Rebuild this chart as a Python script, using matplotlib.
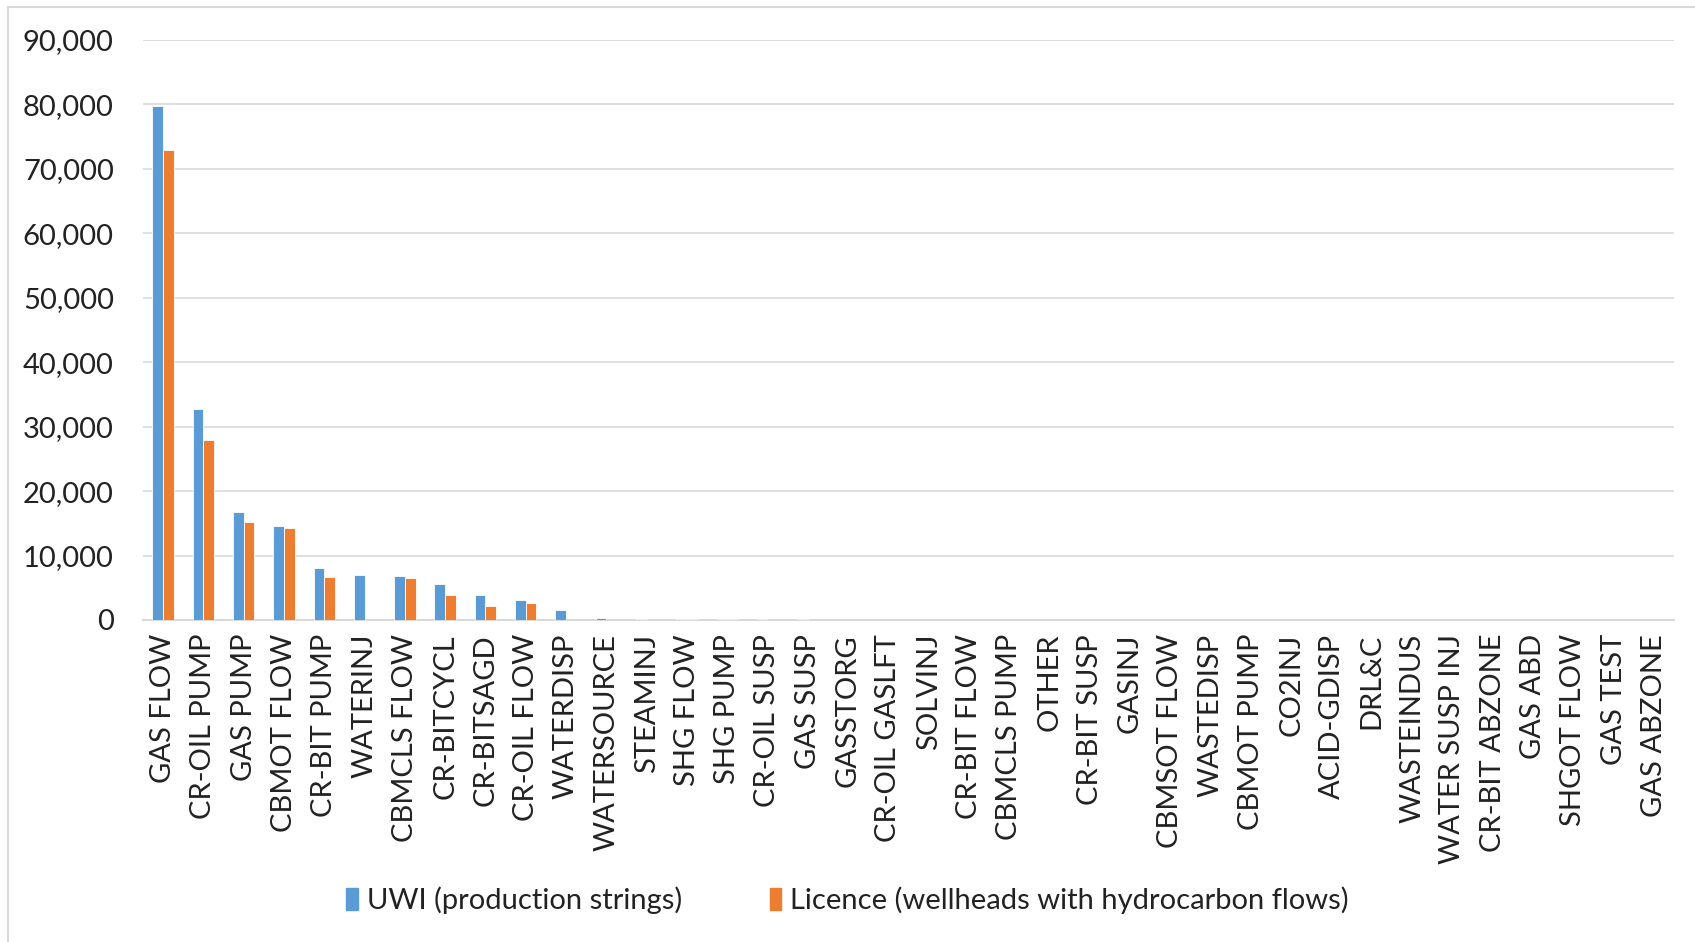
import matplotlib
matplotlib.use("Agg")
import matplotlib.pyplot as plt
import numpy as np
from matplotlib.ticker import FuncFormatter
from matplotlib.lines import Line2D

categories = ["GAS FLOW", "CR-OIL PUMP", "GAS PUMP", "CBMOT FLOW", "CR-BIT PUMP", "WATERINJ",
              "CBMCLS FLOW", "CR-BITCYCL", "CR-BITSAGD", "CR-OIL FLOW", "WATERDISP", "WATERSOURCE",
              "STEAMINJ", "SHG FLOW", "SHG PUMP", "CR-OIL SUSP", "GAS SUSP", "GASSTORG",
              "CR-OIL GASLFT", "SOLVINJ", "CR-BIT FLOW", "CBMCLS PUMP", "OTHER", "CR-BIT SUSP",
              "GASINJ", "CBMSOT FLOW", "WASTEDISP", "CBMOT PUMP", "CO2INJ", "ACID-GDISP",
              "DRL&C", "WASTEINDUS", "WATER SUSP INJ", "CR-BIT ABZONE", "GAS ABD", "SHGOT FLOW",
              "GAS TEST", "GAS ABZONE"]

uwi = [79700, 32800, 16700, 14550, 8000, 7000,
       6850, 5650, 3850, 3100, 1600, 380,
       200, 200, 200, 200, 200, 0,
       0, 0, 0, 0, 0, 0,
       0, 0, 0, 0, 0, 0,
       0, 0, 0, 0, 0, 0,
       0, 0]
licence = [73000, 28000, 15150, 14350, 6650, 0,
           6450, 3850, 2100, 2650, 0, 0,
           0, 200, 200, 0, 0, 0,
           0, 0, 0, 0, 0, 0,
           0, 0, 0, 0, 0, 0,
           0, 0, 0, 0, 0, 0,
           0, 0]

series_names = ["UWI (production strings)", "Licence (wellheads with hydrocarbon flows)"]
yticks = [0, 10000, 20000, 30000, 40000, 50000, 60000, 70000, 80000, 90000]

blue = "#5B9BD5"
orange = "#ED7D31"
W, H = 1695, 942
fig = plt.figure(figsize=(W / 100, H / 100), dpi=100)
plt.rcParams['font.family'] = ['Lato', 'DejaVu Sans']
FS = 21

ax = fig.add_axes([143 / W, 1 - 620 / H, (1674 - 143) / W, (620 - 40) / H])
x = np.arange(len(categories))
bw = 0.265
ax.bar(x - bw / 2, uwi, bw, color=blue, edgecolor="white", linewidth=0.6, zorder=3,
       label=series_names[0])
ax.bar(x + bw / 2, licence, bw, color=orange, edgecolor="white", linewidth=0.6, zorder=3,
       label=series_names[1])

ax.set_xlim(-0.5, len(categories) - 0.5)
ax.set_ylim(0, 90000)
ax.set_yticks(yticks)
ax.yaxis.set_major_formatter(FuncFormatter(lambda v, p: f"{int(v):,}"))
ax.grid(axis="y", color="#D9D9D9", linewidth=1.2, zorder=0)
for s in ["top", "right", "left"]:
    ax.spines[s].set_visible(False)
ax.spines["bottom"].set_color("#D9D9D9")
ax.spines["bottom"].set_linewidth(1.5)
ax.tick_params(axis="both", length=0, labelsize=FS, colors="#222222")
ax.tick_params(axis="y", pad=21)
ax.tick_params(axis="x", pad=10)
ax.set_xticks(x)
ax.set_xticklabels(categories, rotation=90, ha="center", va="top")

handles = [plt.Rectangle((0, 0), 1, 1, color=blue), plt.Rectangle((0, 0), 1, 1, color=orange)]
fig.legend(handles, series_names, loc="center", bbox_to_anchor=(0.5, 1 - 900 / H), ncol=2,
           frameon=False, fontsize=FS, handlelength=0.4, handleheight=0.8,
           handletextpad=0.3, columnspacing=3.0, labelcolor="#222222")

# chart frame
fig.add_artist(Line2D([8 / W, 1], [1 - 7 / H, 1 - 7 / H], color="#D9D9D9", lw=1.5,
                      transform=fig.transFigure))
fig.add_artist(Line2D([8 / W, 8 / W], [0, 1 - 7 / H], color="#D9D9D9", lw=1.5,
                      transform=fig.transFigure))

fig.savefig("out.png", dpi=100, facecolor="white")
